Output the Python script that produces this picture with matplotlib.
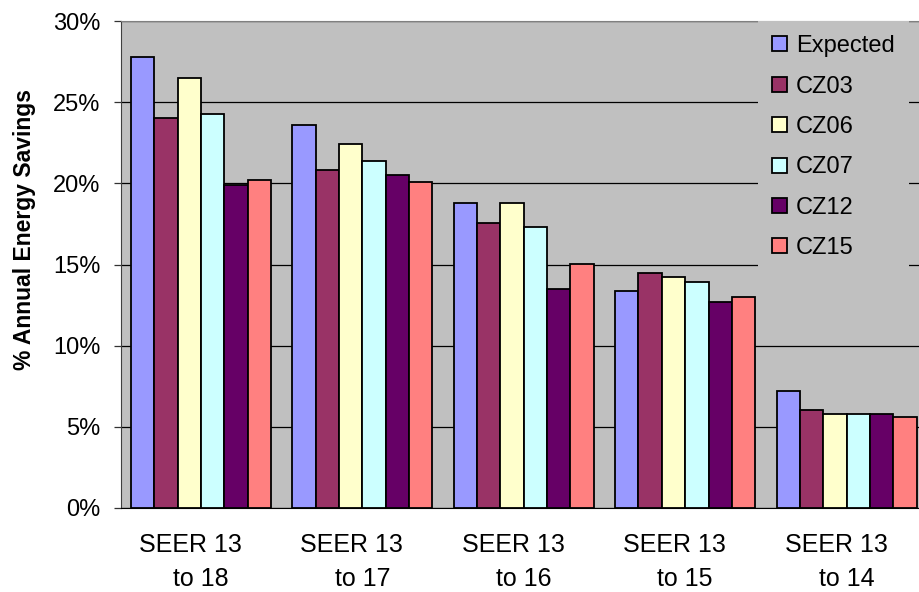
import matplotlib.pyplot as plt
import numpy as np

plt.rcParams['font.family'] = ['Liberation Sans', 'DejaVu Sans']

# Daten (in %)
kategorien = ["SEER 13   \nto 18", "SEER 13   \nto 17", "SEER 13   \nto 16",
              "SEER 13   \nto 15", "SEER 13   \nto 14"]
serien = ["Expected", "CZ03", "CZ06", "CZ07", "CZ12", "CZ15"]
expected = [27.8, 23.6, 18.8, 13.35, 7.2]
cz03 = [24.05, 20.85, 17.55, 14.45, 6.05]
cz06 = [26.5, 22.45, 18.8, 14.2, 5.8]
cz07 = [24.3, 21.35, 17.3, 13.95, 5.8]
cz12 = [19.9, 20.5, 13.5, 12.7, 5.8]
cz15 = [20.2, 20.1, 15.05, 13.0, 5.6]
werte = [expected, cz03, cz06, cz07, cz12, cz15]
farben = ["#9999FF", "#993366", "#FFFFCC", "#CCFFFF", "#660066", "#FF8080"]
y_ticks = [0, 5, 10, 15, 20, 25, 30]

fig = plt.figure(figsize=(9.19, 5.92), dpi=100)
ax = fig.add_axes([121/919, 84/592, 1 - 121/919, 487/592])
ax.set_facecolor("#C0C0C0")

x = np.arange(len(kategorien))
breite = 0.1446
for i, (name, w) in enumerate(zip(serien, werte)):
    ax.bar(x + (i - 2.5) * breite, w, breite, color=farben[i], edgecolor="black",
           linewidth=1.3, label=name, zorder=3)

ax.set_xlim(-0.496, 4.449)
ax.set_ylim(0, 30)
ax.set_yticks(y_ticks)
ax.set_yticklabels([str(t) + "%" for t in y_ticks])
ax.set_xticks(x)
ax.set_xticklabels(kategorien, linespacing=1.5)
ax.yaxis.grid(True, color="black", linewidth=0.9, zorder=1)
ax.set_axisbelow(True)

ax.tick_params(axis="x", length=0, pad=18, labelsize=18)
ax.tick_params(axis="y", length=5, width=0.9, pad=10, labelsize=17, color="#333333")

ax.spines["top"].set_color("#808080")
ax.spines["right"].set_visible(False)
ax.spines["left"].set_color("#404040")
ax.spines["bottom"].set_color("black")

ax.set_ylabel("% Annual Energy Savings", fontsize=16.5, fontweight="bold")
ax.yaxis.set_label_coords(-0.107, 0.571)

leg = ax.legend(loc="upper right", bbox_to_anchor=(0.9875, 1.0), borderaxespad=0,
                fontsize=17, frameon=True, fancybox=False, facecolor="#C0C0C0",
                edgecolor="#C0C0C0", framealpha=1, labelspacing=0.78,
                handlelength=0.6, handleheight=0.6, handletextpad=0.4,
                borderpad=0.6)
leg.get_frame().set_linewidth(0)
leg.set_zorder(5)

fig.savefig("out.png", dpi=100)
